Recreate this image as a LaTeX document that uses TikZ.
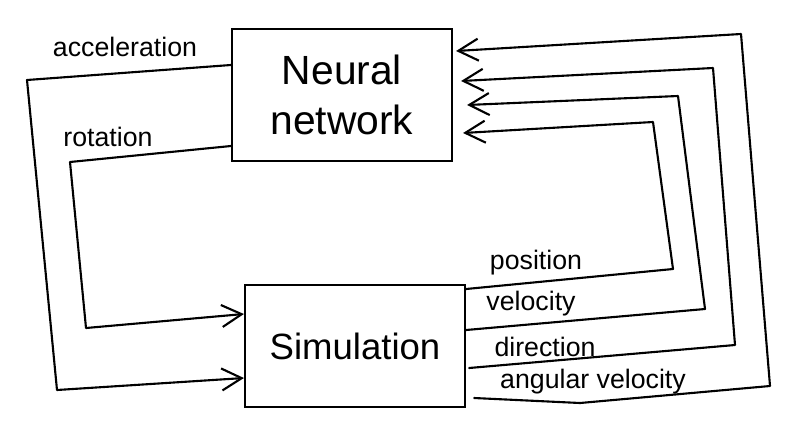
\documentclass[tikz,border=0pt]{standalone}
\usepackage{fontspec}
\setmainfont{Liberation Sans}
\usetikzlibrary{calc, arrows.meta}

\begin{document}
\begin{tikzpicture}[x=0.025cm, y=-0.025cm,
    box/.style = {draw, line width=1.5pt, minimum width=5.5cm, inner sep=0pt},
    lbl/.style = {font=\fontsize{19}{22}\selectfont, inner sep=0pt},
    flow/.style = {line width=1.5pt, line join=round, line cap=round},
    into/.style = {flow, -{Straight Barb[length=5mm, width=5.5mm]}}]
  \useasboundingbox (0,0) rectangle (800,435);
  \node[box, minimum height=3.3cm, align=center, font=\fontsize{29}{35}\selectfont] (nn) at (342,95) {Neural\\network};
  \node[box, minimum height=3.05cm, font=\fontsize{26}{30}\selectfont] (sim) at (355,346) {Simulation};
  % network -> simulation
  \draw[into] ($(nn.west)+(0,-30)$) -- (27,80) -- (57,390) -- ($(sim.west)+(0,32)$);
  \draw[into] ($(nn.west)+(0,51)$) -- (70,162) -- (86,328) -- ($(sim.west)+(0,-32)$);
  \node[lbl] (acc) at (125,47) {acceleration};
  \node[lbl] (rot) at (108,137) {rotation};
  % simulation -> network
  \draw[into] ($(sim.east)+(0,-57)$) -- (673,269) -- (653,122) -- ($(nn.east)+(10,38)$);
  \draw[into] ($(sim.east)+(0,-16)$) -- (705,309) -- (678,96) -- ($(nn.east)+(14,10)$);
  \draw[into] ($(sim.east)+(3,22)$) -- (735,345) -- (713,68) -- ($(nn.east)+(8,-14)$);
  \draw[into] ($(sim.east)+(8,52)$) -- (580,403) -- (770,386) -- (741,34) -- ($(nn.east)+(3,-44)$);
  \node[lbl] (pos) at (536,263) {position};
  \node[lbl] (vel) at (531,304) {velocity};
  \node[lbl] (dir) at (545,347) {direction};
  \node[lbl] (ang) at (593,382) {angular velocity};
\end{tikzpicture}
\end{document}
